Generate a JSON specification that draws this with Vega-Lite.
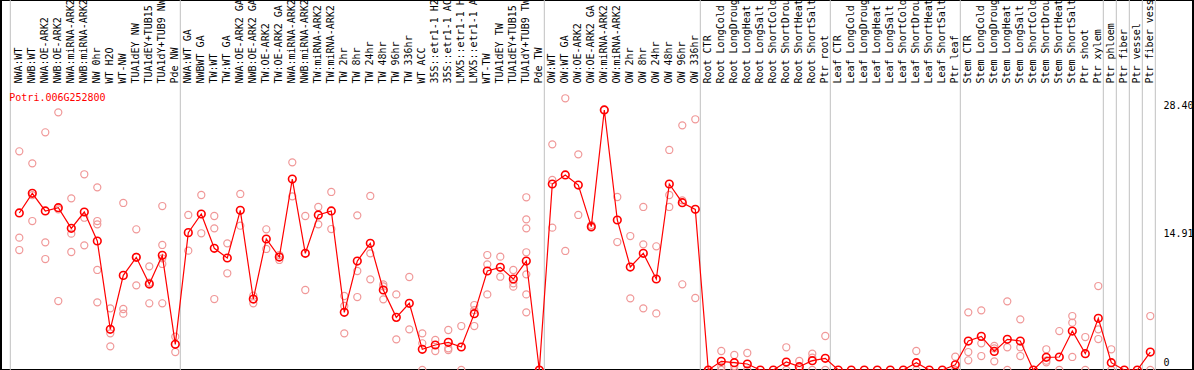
{
  "$schema": "https://vega.github.io/schema/vega-lite/v6.json",
  "width": 1192,
  "height": 370,
  "autosize": {"type": "none"},
  "padding": {"left": 1, "top": 0, "right": 1, "bottom": 0},
  "background": "#ffffff",
  "config": {"view": {"stroke": "#000000", "strokeWidth": 2}, "font": "DejaVu Sans Mono"},
  "datasets": {
    "means": [
      {"c":"NWA:WT","i":1,"v":16.53},{"c":"NWB:WT","i":2,"v":18.6},{"c":"NWA:OE-ARK2","i":3,"v":16.74},{"c":"NWB:OE-ARK2","i":4,"v":17.09},
      {"c":"NWA:miRNA-ARK2","i":5,"v":14.91},{"c":"NWB:miRNA-ARK2","i":6,"v":16.63},{"c":"NW 0hr","i":7,"v":13.58},{"c":"WT H2O","i":8,"v":4.28},
      {"c":"WT-NW","i":9,"v":9.96},{"c":"TUA1dEY NW","i":10,"v":11.86},{"c":"TUA1dEY+TUB15 NW","i":11,"v":9.05},{"c":"TUA1dY+TUB9 NW","i":12,"v":12.07},
      {"c":"Pde NW","i":13,"v":2.7},{"c":"NWA:WT GA","i":14,"v":14.46},{"c":"NWBWT GA","i":15,"v":16.42},{"c":"TW:WT","i":16,"v":12.81},
      {"c":"TW:WT GA","i":17,"v":11.79},{"c":"NWA:OE-ARK2 GA","i":18,"v":16.81},{"c":"NWB:OE-ARK2 GA","i":19,"v":7.47},{"c":"TW:OE-ARK2","i":20,"v":13.79},
      {"c":"TW:OE-ARK2 GA","i":21,"v":11.89},{"c":"NWA:miRNA-ARK2 GA","i":22,"v":20.1},{"c":"NWB:miRNA-ARK2 GA","i":23,"v":12.28},{"c":"TW:miRNA-ARK2","i":24,"v":16.32},
      {"c":"TW:miRNA-ARK2 GA","i":25,"v":16.74},{"c":"TW 2hr","i":26,"v":6.07},{"c":"TW 8hr","i":27,"v":11.47},{"c":"TW 24hr","i":28,"v":13.33},
      {"c":"TW 48hr","i":29,"v":8.42},{"c":"TW 96hr","i":30,"v":5.54},{"c":"TW 336hr","i":31,"v":7.02},{"c":"WT ACC","i":32,"v":2.18},
      {"c":"35S::etr1-1 H2O","i":33,"v":2.63},{"c":"35S::etr1-1 ACC","i":34,"v":2.91},{"c":"LMX5::etr1-1 H2O","i":35,"v":2.42},{"c":"LMX5::etr1-1 ACC","i":36,"v":5.93},
      {"c":"WT-TW","i":37,"v":10.42},{"c":"TUA1dEY TW","i":38,"v":10.81},{"c":"TUA1dEY+TUB15 TW","i":39,"v":9.58},{"c":"TUA1dY+TUB9 TW","i":40,"v":11.47},
      {"c":"Pde TW","i":41,"v":0},{"c":"OW:WT","i":42,"v":19.58},{"c":"OW:WT GA","i":43,"v":20.53},{"c":"OW:OE-ARK2","i":44,"v":19.47},
      {"c":"OW:OE-ARK2 GA","i":45,"v":15.09},{"c":"OW:miRNA-ARK2","i":46,"v":27.37},{"c":"OW:miRNA-ARK2 GA","i":47,"v":15.79},{"c":"OW 2hr","i":48,"v":10.84},
      {"c":"OW 8hr","i":49,"v":12.28},{"c":"OW 24hr","i":50,"v":9.58},{"c":"OW 48hr","i":51,"v":19.58},{"c":"OW 96hr","i":52,"v":17.61},
      {"c":"OW 336hr","i":53,"v":16.91},{"c":"Root CTR","i":54,"v":0},{"c":"Root LongCold","i":55,"v":0.91},{"c":"Root LongDrought","i":56,"v":0.77},
      {"c":"Root LongHeat","i":57,"v":0.63},{"c":"Root LongSalt","i":58,"v":0},{"c":"Root ShortCold","i":59,"v":0},{"c":"Root ShortDrought","i":60,"v":0.84},
      {"c":"Root ShortHeat","i":61,"v":0.35},{"c":"Root ShortSalt","i":62,"v":0.98},{"c":"Ptr root","i":63,"v":1.23},{"c":"Leaf CTR","i":64,"v":0},
      {"c":"Leaf LongCold","i":65,"v":0},{"c":"Leaf LongDrought","i":66,"v":0},{"c":"Leaf LongHeat","i":67,"v":0},{"c":"Leaf LongSalt","i":68,"v":0},
      {"c":"Leaf ShortCold","i":69,"v":0},{"c":"Leaf ShortDrought","i":70,"v":0.77},{"c":"Leaf ShortHeat","i":71,"v":0},{"c":"Leaf ShortSalt","i":72,"v":0},
      {"c":"Ptr leaf","i":73,"v":0.55},{"c":"Stem CTR","i":74,"v":3.05},{"c":"Stem LongCold","i":75,"v":3.54},{"c":"Stem LongDrought","i":76,"v":1.96},
      {"c":"Stem LongHeat","i":77,"v":3.23},{"c":"Stem LongSalt","i":78,"v":3.05},{"c":"Stem ShortCold","i":79,"v":0},{"c":"Stem ShortDrought","i":80,"v":1.33},
      {"c":"Stem ShortHeat","i":81,"v":1.37},{"c":"Stem ShortSalt","i":82,"v":4.1},{"c":"Ptr shoot","i":83,"v":1.72},{"c":"Ptr xylem","i":84,"v":5.44},
      {"c":"Ptr phloem","i":85,"v":0.77},{"c":"Ptr fiber","i":86,"v":0},{"c":"Ptr vessel","i":87,"v":0},{"c":"Ptr fiber vessel","i":88,"v":1.89}
    ],
    "reps": [
      {"c":"NWA:WT","v":23.02},{"c":"NWA:WT","v":13.93},{"c":"NWA:WT","v":12.63},
      {"c":"NWB:WT","v":21.75},{"c":"NWB:WT","v":15.68},{"c":"NWB:WT","v":18.4},
      {"c":"NWA:OE-ARK2","v":25.02},{"c":"NWA:OE-ARK2","v":13.44},{"c":"NWA:OE-ARK2","v":11.68},
      {"c":"NWB:OE-ARK2","v":27.12},{"c":"NWB:OE-ARK2","v":7.26},{"c":"NWB:OE-ARK2","v":16.9},
      {"c":"NWA:miRNA-ARK2","v":18.07},{"c":"NWA:miRNA-ARK2","v":14.35},{"c":"NWA:miRNA-ARK2","v":12.42},
      {"c":"NWB:miRNA-ARK2","v":20.6},{"c":"NWB:miRNA-ARK2","v":16.03},{"c":"NWB:miRNA-ARK2","v":13.12},
      {"c":"NW 0hr","v":19.23},{"c":"NW 0hr","v":15.68},{"c":"NW 0hr","v":15.33},{"c":"NW 0hr","v":10.53},{"c":"NW 0hr","v":7.12},
      {"c":"WT H2O","v":6.49},{"c":"WT H2O","v":3.86},{"c":"WT H2O","v":2.49},
      {"c":"WT-NW","v":17.58},{"c":"WT-NW","v":6.42},{"c":"WT-NW","v":5.93},
      {"c":"TUA1dEY NW","v":14.81},{"c":"TUA1dEY NW","v":8.91},{"c":"TUA1dEY NW","v":11.9},
      {"c":"TUA1dEY+TUB15 NW","v":10.91},{"c":"TUA1dEY+TUB15 NW","v":7.02},{"c":"TUA1dEY+TUB15 NW","v":9.2},
      {"c":"TUA1dY+TUB9 NW","v":17.26},{"c":"TUA1dY+TUB9 NW","v":13.16},{"c":"TUA1dY+TUB9 NW","v":11.75},{"c":"TUA1dY+TUB9 NW","v":11.16},{"c":"TUA1dY+TUB9 NW","v":7.02},
      {"c":"Pde NW","v":3.51},{"c":"Pde NW","v":1.89},
      {"c":"NWA:WT GA","v":16.32},{"c":"NWA:WT GA","v":12.56},
      {"c":"NWBWT GA","v":18.42},{"c":"NWBWT GA","v":14.39},
      {"c":"TW:WT","v":16.21},{"c":"TW:WT","v":14.91},{"c":"TW:WT","v":7.47},
      {"c":"TW:WT GA","v":13.33},{"c":"TW:WT GA","v":10.18},
      {"c":"NWA:OE-ARK2 GA","v":18.53},{"c":"NWA:OE-ARK2 GA","v":15.19},
      {"c":"NWB:OE-ARK2 GA","v":7.82},{"c":"NWB:OE-ARK2 GA","v":7.02},
      {"c":"TW:OE-ARK2","v":14.81},{"c":"TW:OE-ARK2","v":12.74},
      {"c":"TW:OE-ARK2 GA","v":12.1},{"c":"TW:OE-ARK2 GA","v":11.58},
      {"c":"NWA:miRNA-ARK2 GA","v":21.86},{"c":"NWA:miRNA-ARK2 GA","v":18.28},
      {"c":"NWB:miRNA-ARK2 GA","v":16.21},{"c":"NWB:miRNA-ARK2 GA","v":8.42},
      {"c":"TW:miRNA-ARK2","v":17.16},{"c":"TW:miRNA-ARK2","v":15.33},
      {"c":"TW:miRNA-ARK2 GA","v":18.74},{"c":"TW:miRNA-ARK2 GA","v":14.84},
      {"c":"TW 2hr","v":7.79},{"c":"TW 2hr","v":6.74},{"c":"TW 2hr","v":3.86},
      {"c":"TW 8hr","v":16.28},{"c":"TW 8hr","v":10.42},{"c":"TW 8hr","v":7.68},
      {"c":"TW 24hr","v":18.32},{"c":"TW 24hr","v":12.28},{"c":"TW 24hr","v":9.54},
      {"c":"TW 48hr","v":9.0},{"c":"TW 48hr","v":8.8},{"c":"TW 48hr","v":7.44},
      {"c":"TW 96hr","v":7.96},{"c":"TW 96hr","v":3.23},
      {"c":"TW 336hr","v":9.79},{"c":"TW 336hr","v":4.28},
      {"c":"WT ACC","v":3.86},{"c":"WT ACC","v":2.81},{"c":"WT ACC","v":0},
      {"c":"35S::etr1-1 H2O","v":3.16},{"c":"35S::etr1-1 H2O","v":2.0},
      {"c":"35S::etr1-1 ACC","v":4.21},{"c":"35S::etr1-1 ACC","v":2.28},{"c":"35S::etr1-1 ACC","v":2.1},
      {"c":"LMX5::etr1-1 H2O","v":4.63},{"c":"LMX5::etr1-1 H2O","v":0},
      {"c":"LMX5::etr1-1 ACC","v":6.84},{"c":"LMX5::etr1-1 ACC","v":6.3},{"c":"LMX5::etr1-1 ACC","v":4.63},
      {"c":"WT-TW","v":12.1},{"c":"WT-TW","v":11.12},{"c":"WT-TW","v":7.96},
      {"c":"TUA1dEY TW","v":11.93},{"c":"TUA1dEY TW","v":9.82},
      {"c":"TUA1dEY+TUB15 TW","v":10.53},{"c":"TUA1dEY+TUB15 TW","v":9.12},{"c":"TUA1dEY+TUB15 TW","v":8.77},
      {"c":"TUA1dY+TUB9 TW","v":18.18},{"c":"TUA1dY+TUB9 TW","v":15.86},{"c":"TUA1dY+TUB9 TW","v":14.91},{"c":"TUA1dY+TUB9 TW","v":12.39},{"c":"TUA1dY+TUB9 TW","v":10.07},{"c":"TUA1dY+TUB9 TW","v":7.96},{"c":"TUA1dY+TUB9 TW","v":6.07},
      {"c":"Pde TW","v":0},
      {"c":"OW:WT","v":23.75},{"c":"OW:WT","v":20.0},{"c":"OW:WT","v":14.98},
      {"c":"OW:WT GA","v":28.6},{"c":"OW:WT GA","v":12.53},
      {"c":"OW:OE-ARK2","v":22.7},{"c":"OW:OE-ARK2","v":16.32},
      {"c":"OW:OE-ARK2 GA","v":15.26},{"c":"OW:OE-ARK2 GA","v":14.98},
      {"c":"OW:miRNA-ARK2","v":27.37},
      {"c":"OW:miRNA-ARK2 GA","v":18.21},{"c":"OW:miRNA-ARK2 GA","v":13.47},
      {"c":"OW 2hr","v":14.1},{"c":"OW 2hr","v":7.54},
      {"c":"OW 8hr","v":17.16},{"c":"OW 8hr","v":13.23},{"c":"OW 8hr","v":6.49},
      {"c":"OW 24hr","v":13.02},{"c":"OW 24hr","v":5.96},
      {"c":"OW 48hr","v":23.16},{"c":"OW 48hr","v":18.42},{"c":"OW 48hr","v":17.16},
      {"c":"OW 96hr","v":25.75},{"c":"OW 96hr","v":17.86},{"c":"OW 96hr","v":9.02},
      {"c":"OW 336hr","v":26.39},{"c":"OW 336hr","v":7.58},
      {"c":"Root CTR","v":0},
      {"c":"Root LongCold","v":2.0},{"c":"Root LongCold","v":0.35},{"c":"Root LongCold","v":0},
      {"c":"Root LongDrought","v":1.58},{"c":"Root LongDrought","v":0.42},{"c":"Root LongDrought","v":0},
      {"c":"Root LongHeat","v":1.79},{"c":"Root LongHeat","v":0},
      {"c":"Root ShortDrought","v":2.39},{"c":"Root ShortDrought","v":0},
      {"c":"Root ShortHeat","v":0.95},{"c":"Root ShortHeat","v":0},
      {"c":"Root ShortSalt","v":1.72},{"c":"Root ShortSalt","v":1.3},{"c":"Root ShortSalt","v":0},
      {"c":"Ptr root","v":3.58},{"c":"Ptr root","v":0},
      {"c":"Leaf ShortDrought","v":2.0},{"c":"Leaf ShortDrought","v":0},
      {"c":"Ptr leaf","v":1.4},{"c":"Ptr leaf","v":0},
      {"c":"Stem CTR","v":6.07},{"c":"Stem CTR","v":1.89},{"c":"Stem CTR","v":1.02},
      {"c":"Stem LongCold","v":6.28},{"c":"Stem LongCold","v":2.81},{"c":"Stem LongCold","v":1.47},
      {"c":"Stem LongDrought","v":2.53},{"c":"Stem LongDrought","v":2.28},{"c":"Stem LongDrought","v":0.91},
      {"c":"Stem LongHeat","v":7.23},{"c":"Stem LongHeat","v":2.39},{"c":"Stem LongHeat","v":0},
      {"c":"Stem LongSalt","v":5.33},{"c":"Stem LongSalt","v":2.39},{"c":"Stem LongSalt","v":1.47},
      {"c":"Stem ShortDrought","v":2.18},{"c":"Stem ShortDrought","v":0.98},{"c":"Stem ShortDrought","v":0.81},
      {"c":"Stem ShortHeat","v":4.1},{"c":"Stem ShortHeat","v":0},
      {"c":"Stem ShortSalt","v":5.68},{"c":"Stem ShortSalt","v":4.98},{"c":"Stem ShortSalt","v":1.37},
      {"c":"Ptr shoot","v":3.47},{"c":"Ptr shoot","v":0},
      {"c":"Ptr xylem","v":8.84},{"c":"Ptr xylem","v":4.28},{"c":"Ptr xylem","v":3.26},
      {"c":"Ptr phloem","v":2.18},{"c":"Ptr phloem","v":0},
      {"c":"Ptr fiber vessel","v":5.68},{"c":"Ptr fiber vessel","v":0}
    ],
    "seps": [
      {"c":"Pde NW"},{"c":"Pde TW"},{"c":"OW 336hr"},{"c":"Ptr root"},{"c":"Ptr leaf"},
      {"c":"Ptr xylem"},{"c":"Ptr phloem"},{"c":"Ptr fiber"},{"c":"Ptr vessel"},{"c":"Ptr fiber vessel"}
    ],
    "title": [{"c":"NWA:WT","v":28.32,"t":"Potri.006G252800"}]
  },
  "layer": [
    {
      "data": {"name": "reps"},
      "mark": {"type": "point", "shape": "circle", "filled": false, "color": "#f09898", "strokeWidth": 1.2, "size": 50, "opacity": 1},
      "encoding": {
        "x": {
          "field": "c", "type": "nominal",
          "scale": {
            "type": "band", "round": false, "paddingInner": 0, "paddingOuter": 0, "range": [11.8, 1155.8],
            "domain": ["NWA:WT","NWB:WT","NWA:OE-ARK2","NWB:OE-ARK2","NWA:miRNA-ARK2","NWB:miRNA-ARK2","NW 0hr","WT H2O","WT-NW","TUA1dEY NW","TUA1dEY+TUB15 NW","TUA1dY+TUB9 NW","Pde NW","NWA:WT GA","NWBWT GA","TW:WT","TW:WT GA","NWA:OE-ARK2 GA","NWB:OE-ARK2 GA","TW:OE-ARK2","TW:OE-ARK2 GA","NWA:miRNA-ARK2 GA","NWB:miRNA-ARK2 GA","TW:miRNA-ARK2","TW:miRNA-ARK2 GA","TW 2hr","TW 8hr","TW 24hr","TW 48hr","TW 96hr","TW 336hr","WT ACC","35S::etr1-1 H2O","35S::etr1-1 ACC","LMX5::etr1-1 H2O","LMX5::etr1-1 ACC","WT-TW","TUA1dEY TW","TUA1dEY+TUB15 TW","TUA1dY+TUB9 TW","Pde TW","OW:WT","OW:WT GA","OW:OE-ARK2","OW:OE-ARK2 GA","OW:miRNA-ARK2","OW:miRNA-ARK2 GA","OW 2hr","OW 8hr","OW 24hr","OW 48hr","OW 96hr","OW 336hr","Root CTR","Root LongCold","Root LongDrought","Root LongHeat","Root LongSalt","Root ShortCold","Root ShortDrought","Root ShortHeat","Root ShortSalt","Ptr root","Leaf CTR","Leaf LongCold","Leaf LongDrought","Leaf LongHeat","Leaf LongSalt","Leaf ShortCold","Leaf ShortDrought","Leaf ShortHeat","Leaf ShortSalt","Ptr leaf","Stem CTR","Stem LongCold","Stem LongDrought","Stem LongHeat","Stem LongSalt","Stem ShortCold","Stem ShortDrought","Stem ShortHeat","Stem ShortSalt","Ptr shoot","Ptr xylem","Ptr phloem","Ptr fiber","Ptr vessel","Ptr fiber vessel"]
          },
          "axis": {
            "orient": "top", "offset": -85, "labelAngle": -90, "ticks": false, "domain": false, "grid": false,
            "labelPadding": 2, "labelFont": "DejaVu Sans Mono", "labelFontSize": 10, "labelColor": "#000000",
            "labelLimit": 300, "labelOverlap": false, "title": null
          }
        },
        "y": {
          "field": "v", "type": "quantitative",
          "scale": {"domain": [0, 38.947], "nice": false, "zero": true},
          "axis": {
            "orient": "right", "offset": -30, "values": [0, 14.91, 28.4],
            "labelExpr": "datum.value == 0 ? '0' : format(datum.value, '.2f')",
            "ticks": false, "domain": false, "grid": false, "labelPadding": 0,
            "labelFont": "DejaVu Sans Mono", "labelFontSize": 10, "labelColor": "#000000",
            "labelBaseline": "middle", "labelOverlap": false,
            "labelOffset": {"condition": {"test": "datum.value == 0", "value": -8}, "value": 5.5},
            "title": null
          }
        }
      }
    },
    {
      "data": {"name": "seps"},
      "mark": {"type": "rule", "color": "#c0c0c0", "strokeWidth": 1, "xOffset": 5},
      "encoding": {"x": {"field": "c", "type": "nominal"}}
    },
    {
      "data": {"values": [{"c": "NWA:WT"}]},
      "mark": {"type": "rule", "color": "#c0c0c0", "strokeWidth": 1, "xOffset": -9},
      "encoding": {"x": {"field": "c", "type": "nominal"}}
    },
    {
      "mark": {"type": "rule", "color": "#c0c0c0", "strokeWidth": 1, "xOffset": -17, "x2Offset": 13},
      "encoding": {
        "x": {"datum": "NWA:WT"},
        "x2": {"datum": "Ptr fiber vessel"},
        "y": {"datum": 14.91}
      }
    },
    {
      "data": {"name": "means"},
      "mark": {"type": "line", "color": "#ff0000", "strokeWidth": 1.2},
      "encoding": {
        "x": {"field": "c", "type": "nominal"},
        "y": {"field": "v", "type": "quantitative"},
        "order": {"field": "i", "type": "quantitative"}
      }
    },
    {
      "data": {"name": "means"},
      "mark": {"type": "point", "shape": "circle", "filled": false, "color": "#ff0000", "strokeWidth": 1.6, "size": 58, "opacity": 1},
      "encoding": {
        "x": {"field": "c", "type": "nominal"},
        "y": {"field": "v", "type": "quantitative"}
      }
    },
    {
      "mark": {"type": "rule", "color": "#000000", "strokeWidth": 2},
      "encoding": {"y": {"datum": 29.9}}
    },
    {
      "data": {"name": "title"},
      "mark": {"type": "text", "align": "left", "baseline": "alphabetic", "dx": -10, "color": "#ff0000", "font": "DejaVu Sans Mono", "fontSize": 10},
      "encoding": {
        "x": {"field": "c", "type": "nominal"},
        "y": {"field": "v", "type": "quantitative"},
        "text": {"field": "t"}
      }
    }
  ]
}
